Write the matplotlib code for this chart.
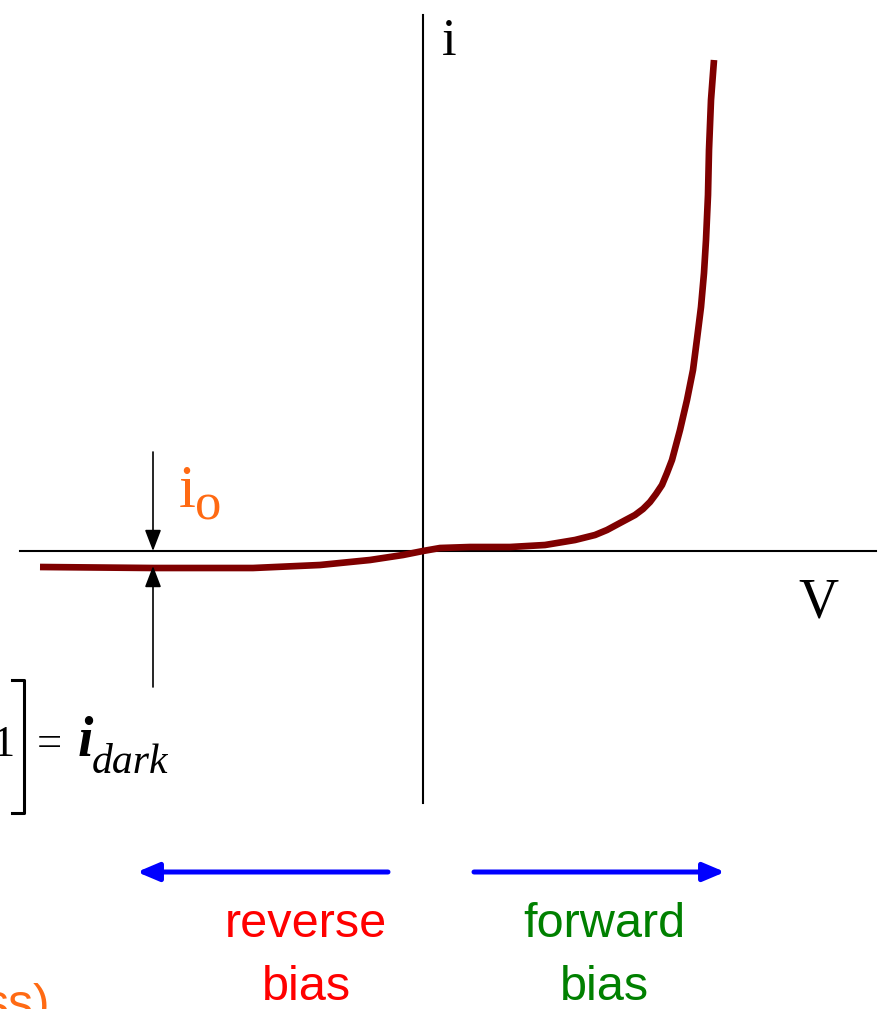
# Diode i-V curve (dark current), sketched schematic
import matplotlib.pyplot as plt

# curve (V and i in arbitrary units, origin at the axes crossing)
V = [-3.83, -2.70, -1.70, -1.03, -0.53, -0.20, 0.0, 0.17, 0.47, 0.87, 1.22,
     1.52, 1.72, 1.84, 1.97, 2.12, 2.20, 2.27, 2.33, 2.39, 2.44, 2.49, 2.57,
     2.64, 2.70, 2.74, 2.78, 2.81, 2.83, 2.85, 2.86, 2.88, 2.91]
i = [-0.16, -0.17, -0.17, -0.14, -0.09, -0.04, 0.0, 0.03, 0.04, 0.04, 0.06,
     0.11, 0.16, 0.21, 0.28, 0.36, 0.42, 0.49, 0.57, 0.66, 0.78, 0.91, 1.21,
     1.51, 1.81, 2.12, 2.44, 2.78, 3.11, 3.56, 4.01, 4.51, 4.91]

axis_label_V = "V"
axis_label_i = "i"
bias_words = [("reverse", "bias"), ("forward", "bias")]

serif = ["Liberation Serif", "DejaVu Serif"]
sans = ["Liberation Sans", "DejaVu Sans"]
orange = "#FF6A13"

fig = plt.figure(figsize=(8.79, 10.09), dpi=100)
ax = fig.add_axes([0, 0, 1, 1])
ax.set_xlim(-4.23, 4.56)
ax.set_ylim(-4.58, 5.51)
ax.axis("off")

# axes
ax.plot([0, 0], [-2.52, 5.36], color="black", lw=1.5)
ax.plot([-4.03, 4.53], [0, 0], color="black", lw=1.5)

# the curve
ax.plot(V, i, color="#7F0000", lw=4.8, solid_capstyle="butt", solid_joinstyle="round")

# axis labels
ax.text(0.26, 4.96, axis_label_i, fontsize=38, family=serif, ha="center", va="baseline")
ax.text(3.95, -0.67, axis_label_V, fontsize=40, family=serif, ha="center", va="baseline")

# i_o arrows
akw = dict(arrowstyle="-|>,head_width=0.5,head_length=1.3", color="black", lw=1.2,
           shrinkA=0, shrinkB=0)
ax.annotate("", xy=(-2.70, 0.0), xytext=(-2.70, 0.99), arrowprops=akw)
ax.annotate("", xy=(-2.70, -0.15), xytext=(-2.70, -1.36), arrowprops=akw)
ax.text(-2.36, 0.44, "i", fontsize=44, family=serif, color=orange, ha="center", va="baseline")
ax.text(-2.15, 0.31, "o", fontsize=38, family=serif, color=orange, ha="center", va="baseline")

# "...1] = i_dark" at left edge
ax.text(-4.20, -2.05, "1", fontsize=32, family=serif, ha="center", va="baseline")
ax.plot([-4.11, -3.99, -3.99, -4.11], [-1.29, -1.29, -2.62, -2.62], color="black", lw=2.2)
ax.text(-3.86, -2.05, "=", fontsize=32, family=serif, ha="left", va="baseline")
ax.text(-3.45, -2.05, "i", fontsize=40, family=serif, style="italic", weight="bold",
        ha="left", va="baseline")
ax.text(-3.31, -2.22, "dark", fontsize=30, family=serif, style="italic",
        ha="left", va="baseline")

# bias arrows
bkw = dict(arrowstyle="-|>,head_width=0.55,head_length=1.3", color="#0000FF", lw=3.6,
           shrinkA=0, shrinkB=0)
ax.annotate("", xy=(-2.86, -3.21), xytext=(-0.35, -3.21), arrowprops=bkw)
ax.annotate("", xy=(3.02, -3.21), xytext=(0.51, -3.21), arrowprops=bkw)
for xc, (w1, w2), col in zip([-1.17, 1.81], bias_words, ["#FF0000", "#008000"]):
    ax.text(xc, -3.86, w1, fontsize=35, family=sans, color=col, ha="center", va="baseline")
    ax.text(xc, -4.49, w2, fontsize=35, family=sans, color=col, ha="center", va="baseline")

# cut-off text at bottom-left
ax.text(-3.73, -4.68, "ss)", fontsize=36, family=sans, color=orange,
        ha="right", va="baseline")

fig.savefig("out.png", dpi=100)
